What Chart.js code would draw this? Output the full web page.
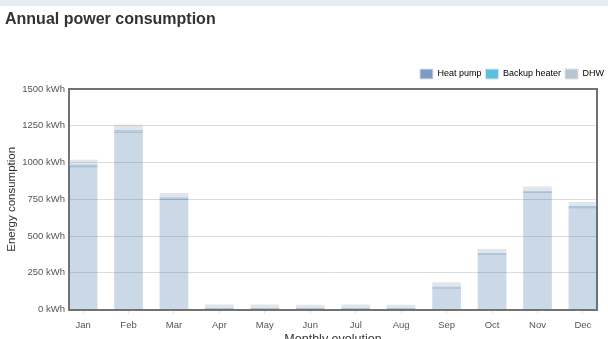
<!DOCTYPE html>
<html>
<head>
<meta charset="utf-8">
<script src="https://cdn.jsdelivr.net/npm/chart.js@4"></script>
<style>
  html, body { margin: 0; padding: 0; background: #fff; overflow: hidden; }
  #strip { position: absolute; left: 0; top: 0; width: 608px; height: 6px; background: #e8ecf3; }
  #title { position: absolute; left: 5px; top: 11px; font: bold 16px/1 "Liberation Sans", Arial, sans-serif; color: #333; }
  #wrap { position: absolute; left: 0; top: 0; width: 608px; height: 355px; }
</style>
</head>
<body>
<div id="strip"></div>
<div id="wrap"><canvas id="powerChart"></canvas></div>
<div id="title">Annual power consumption</div>
<script>
const months = ['Jan', 'Feb', 'Mar', 'Apr', 'May', 'Jun', 'Jul', 'Aug', 'Sep', 'Oct', 'Nov', 'Dec'];
const heatPump = [970, 1205, 750, 5, 5, 5, 5, 5, 145, 373, 795, 692];
const backupHeater = [12, 12, 10, 0, 0, 0, 0, 0, 8, 8, 10, 10];
const dhw = [34, 37, 30, 27, 27, 26, 27, 26, 31, 28, 29, 27];
const yTicks = [0, 250, 500, 750, 1000, 1250, 1500];

const legendColors = ['#7a9cc6', '#5bc0de', '#b9c4d1'];
const borderGrey = '#727272';

const toPoints = arr => arr.map((v, i) => ({ x: i, y: v }));

const ctx = document.getElementById('powerChart').getContext('2d');
Chart.defaults.font.family = '"Liberation Sans", Arial, sans-serif';
Chart.defaults.color = '#555';

new Chart(ctx, {
  type: 'bar',
  data: {
    datasets: [
      { label: 'Heat pump', data: toPoints(heatPump), backgroundColor: 'rgba(70,115,160,0.28)' },
      { label: 'Backup heater', data: toPoints(backupHeater), backgroundColor: 'rgba(60,130,190,0.36)' },
      { label: 'DHW', data: toPoints(dhw), backgroundColor: 'rgba(150,160,175,0.28)' }
    ]
  },
  options: {
    responsive: true,
    maintainAspectRatio: false,
    animation: false,
    barThickness: 28,
    layout: { padding: { top: 65, left: 0, right: 0, bottom: 0 } },
    plugins: {
      tooltip: { enabled: false },
      legend: {
        position: 'top',
        align: 'end',
        labels: {
          boxWidth: 13,
          boxHeight: 10,
          padding: 4,
          color: '#444',
          font: { size: 9 },
          generateLabels: chart => chart.data.datasets.map((ds, i) => ({
            text: ds.label,
            fillStyle: legendColors[i],
            strokeStyle: '#dde3ea',
            lineWidth: 1,
            datasetIndex: i
          }))
        }
      }
    },
    scales: {
      x: {
        type: 'linear',
        stacked: true,
        offset: false,
        min: -0.31,
        max: 11.31,
        afterBuildTicks: scale => { scale.ticks = months.map((m, i) => ({ value: i })); },
        ticks: {
          padding: 6,
          font: { size: 9.5 },
          color: '#555',
          callback: v => months[v]
        },
        grid: { drawOnChartArea: false, offset: false, tickLength: 4, tickColor: '#ddd' },
        border: { color: borderGrey, width: 2 },
        title: {
          display: true,
          text: 'Monthly evolution',
          color: '#333',
          font: { size: 12.5 },
          padding: { top: -5, bottom: 8 }
        }
      },
      y: {
        stacked: true,
        min: 0,
        max: 1500,
        afterBuildTicks: scale => { scale.ticks = yTicks.map(v => ({ value: v })); },
        afterFit: scale => { scale.width = 69; },
        ticks: {
          padding: 4,
          font: { size: 9.5 },
          color: '#555',
          callback: v => v + ' kWh'
        },
        grid: {
          drawTicks: false,
          color: c => c.tick && c.tick.value === 1500 ? borderGrey : '#dcdcdc',
          lineWidth: c => c.tick && c.tick.value === 1500 ? 2 : 1
        },
        border: { color: borderGrey, width: 2 },
        title: {
          display: true,
          text: 'Energy consumption',
          color: '#333',
          font: { size: 11.5 },
          padding: { top: 5, bottom: 0 }
        }
      },
      yRight: {
        position: 'right',
        min: 0,
        max: 1500,
        afterFit: scale => { scale.width = 11; },
        ticks: { display: false },
        grid: { display: false, drawTicks: false },
        border: { color: borderGrey, width: 2 }
      }
    }
  }
});
</script>
</body>
</html>
